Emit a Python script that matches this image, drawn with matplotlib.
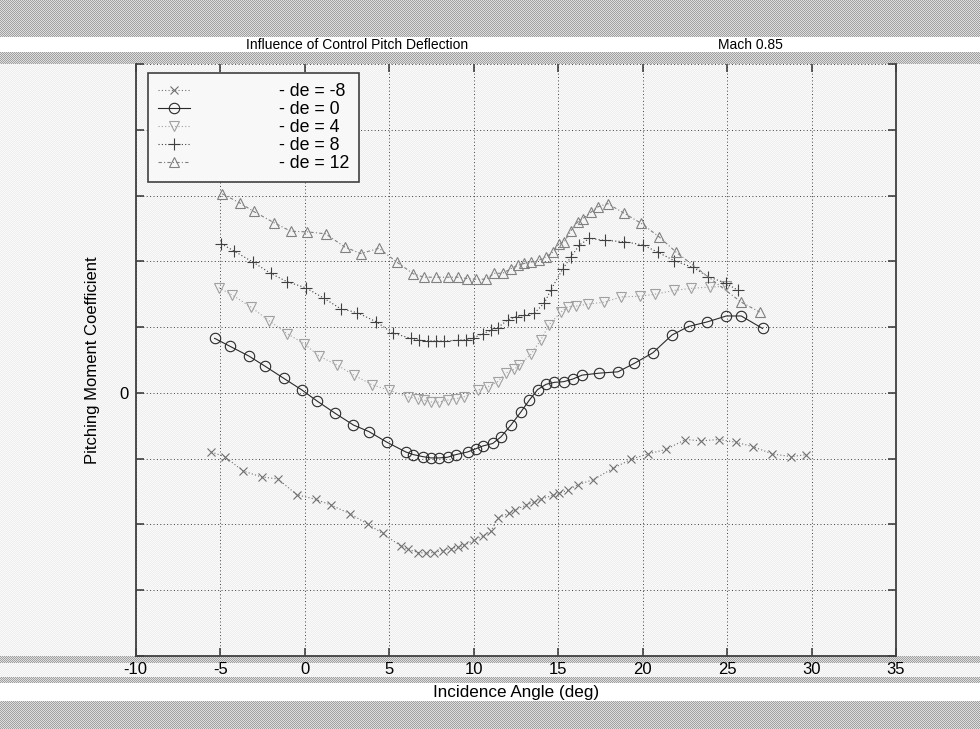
import numpy as np
import matplotlib
matplotlib.use("Agg")
import matplotlib.pyplot as plt

plt.rcParams['font.family'] = ['Liberation Sans', 'DejaVu Sans']

# ---------------- data ----------------
de_m8_x = [-5.53, -4.74, -3.63, -2.55, -1.58, -0.47, 0.65, 1.58, 2.69, 3.75, 4.61, 5.69, 6.12, 6.72,
           7.17, 7.66, 8.16, 8.65, 9.05, 9.44, 10.04, 10.53, 11.03, 11.47, 12.11, 12.47, 13.10, 13.59,
           13.99, 14.68, 15.07, 15.57, 16.16, 17.09, 18.24, 19.33, 20.31, 21.40, 22.54, 23.47, 24.52,
           25.51, 26.54, 27.68, 28.81, 29.70]
de_m8_y = [-0.90, -0.97, -1.19, -1.28, -1.31, -1.55, -1.62, -1.71, -1.84, -2.00, -2.14, -2.33, -2.38,
           -2.43, -2.44, -2.43, -2.40, -2.37, -2.35, -2.32, -2.24, -2.18, -2.10, -1.90, -1.83, -1.78,
           -1.71, -1.66, -1.62, -1.56, -1.53, -1.48, -1.40, -1.32, -1.15, -1.01, -0.93, -0.86, -0.71,
           -0.73, -0.71, -0.75, -0.82, -0.93, -0.97, -0.94]

de_0_x = [-5.33, -4.43, -3.30, -2.37, -1.23, -0.14, 0.71, 1.80, 2.89, 3.81, 4.86, 5.99, 6.44, 6.98,
          7.47, 7.96, 8.46, 8.95, 9.64, 10.14, 10.53, 11.13, 11.62, 12.21, 12.80, 13.30, 13.79, 14.29,
          14.78, 15.33, 15.87, 16.42, 17.44, 18.54, 19.52, 20.61, 21.74, 22.72, 23.83, 24.96, 25.84,
          27.10]
de_0_y = [0.83, 0.71, 0.56, 0.41, 0.22, 0.04, -0.12, -0.31, -0.49, -0.59, -0.75, -0.90, -0.94, -0.97,
          -0.99, -0.99, -0.98, -0.94, -0.90, -0.85, -0.81, -0.77, -0.67, -0.49, -0.29, -0.11, 0.05,
          0.13, 0.16, 0.17, 0.21, 0.27, 0.30, 0.32, 0.45, 0.61, 0.88, 1.01, 1.08, 1.17, 1.17, 0.98]

de_4_x = [-5.08, -4.29, -3.20, -2.12, -1.03, -0.04, 0.85, 1.94, 2.92, 4.01, 5.00, 6.09, 6.68, 7.07,
          7.47, 7.96, 8.46, 8.95, 9.44, 10.24, 10.83, 11.42, 11.91, 12.41, 12.70, 13.40, 13.99, 14.48,
          15.17, 15.57, 16.06, 16.76, 17.74, 18.73, 19.82, 20.71, 21.89, 22.88, 23.97, 24.96]
de_4_y = [1.60, 1.49, 1.31, 1.10, 0.90, 0.75, 0.56, 0.42, 0.27, 0.12, 0.04, -0.06, -0.09, -0.11,
          -0.14, -0.14, -0.11, -0.09, -0.06, 0.04, 0.09, 0.17, 0.30, 0.36, 0.42, 0.59, 0.81, 1.04,
          1.23, 1.31, 1.32, 1.35, 1.38, 1.46, 1.47, 1.50, 1.56, 1.59, 1.61, 1.62]

de_8_x = [-4.94, -4.19, -3.06, -2.02, -1.03, 0.06, 1.14, 2.13, 3.12, 4.25, 5.20, 6.28, 6.78, 7.29,
          7.77, 8.26, 9.05, 9.54, 9.94, 10.53, 11.03, 11.42, 12.02, 12.51, 13.00, 13.59, 14.19, 14.58,
          15.28, 15.77, 16.26, 16.85, 17.78, 18.93, 20.02, 20.91, 21.89, 22.98, 23.87, 24.91, 25.65]
de_8_y = [2.27, 2.16, 1.99, 1.82, 1.69, 1.60, 1.44, 1.28, 1.22, 1.08, 0.91, 0.83, 0.80, 0.79,
          0.79, 0.79, 0.80, 0.81, 0.83, 0.90, 0.95, 0.99, 1.11, 1.16, 1.18, 1.21, 1.37, 1.57,
          1.89, 2.07, 2.25, 2.35, 2.32, 2.30, 2.25, 2.14, 2.01, 1.91, 1.77, 1.67, 1.56]

de_12_x = [-4.88, -3.84, -3.01, -1.82, -0.83, 0.16, 1.24, 2.37, 3.32, 4.40, 5.45, 6.44, 7.07, 7.77,
           8.46, 9.05, 9.60, 10.14, 10.73, 11.22, 11.72, 12.21, 12.61, 13.00, 13.40, 13.89, 14.29,
           14.68, 15.07, 15.37, 15.77, 16.16, 16.46, 16.95, 17.35, 17.94, 18.93, 19.92, 21.00, 21.99,
           25.84, 26.93]
de_12_y = [3.03, 2.89, 2.76, 2.59, 2.46, 2.45, 2.42, 2.22, 2.12, 2.20, 1.99, 1.81, 1.76, 1.76,
           1.76, 1.76, 1.74, 1.73, 1.73, 1.82, 1.82, 1.89, 1.94, 1.97, 1.99, 2.02, 2.07,
           2.14, 2.27, 2.30, 2.47, 2.60, 2.65, 2.75, 2.83, 2.88, 2.73, 2.58, 2.37, 2.14,
           1.38, 1.23]

labels = ['- de = -8', '- de = 0', '- de = 4', '- de = 8', '- de = 12']
x_ticks = [-10, -5, 0, 5, 10, 15, 20, 25, 30, 35]
y_ticks = [-4, -3, -2, -1, 0, 1, 2, 3, 4, 5]
y_ticklabels = ['', '', '', '', '0', '', '', '', '', '']

title_left = 'Influence of Control Pitch Deflection'
title_right = 'Mach 0.85'
x_label = 'Incidence Angle (deg)'
y_label = 'Pitching Moment Coefficient'

FS_T = 10    # title
FS = 12      # ticks, axis labels
FS_L = 12.8  # legend

# ---------------- figure ----------------
W, H = 980, 729
fig = plt.figure(figsize=(W / 100, H / 100), dpi=100, facecolor='white')

# dithered background (scan-like texture)
yy, xx = np.mgrid[0:H, 0:W]
checker = ((xx + yy) % 2 == 0)
bg = np.where(checker, 250, 238).astype(float)
dark = np.where(checker, 160, 222).astype(float)
bands = [(0, 37), (52, 64), (656, 663), (677, 683), (701, H)]
for a, b in bands:
    bg[a:b, :] = dark[a:b, :]
bg[37:52, :] = 255
bg[683:701, :] = 255
img = np.dstack([bg, bg, bg]) / 255.0
fig.figimage(img, xo=0, yo=0, origin='upper', zorder=-10)

ax_left, ax_right, ax_top, ax_bottom = 135.7, 896.0, 64.3, 655.7
ax = fig.add_axes([ax_left / W, 1 - ax_bottom / H, (ax_right - ax_left) / W, (ax_bottom - ax_top) / H])
ax.set_facecolor('none')
ax.set_zorder(5)

ms_kw = dict(markerfacecolor='none', markeredgewidth=0.8)
ax.plot(de_m8_x, de_m8_y, linestyle=(0, (1, 2)), color='#707070', lw=0.8, marker='x', ms=6,
        label=labels[0], **ms_kw)
ax.plot(de_0_x, de_0_y, linestyle='-', color='#2a2a2a', lw=0.8, marker='o', ms=7.5,
        label=labels[1], **ms_kw)
ax.plot(de_4_x, de_4_y, linestyle=(0, (1, 2)), color='#a0a0a0', lw=0.8, marker='v', ms=7,
        label=labels[2], **ms_kw)
ax.plot(de_8_x, de_8_y, linestyle=(0, (1, 2)), color='#404040', lw=0.8, marker='+', ms=8,
        label=labels[3], **ms_kw)
ax.plot(de_12_x, de_12_y, linestyle=(0, (3, 2, 1, 2)), color='#808080', lw=0.8, marker='^', ms=7,
        label=labels[4], **ms_kw)

ax.set_xlim(-10, 35)
ax.set_ylim(-4, 5)
ax.set_xticks(x_ticks)
ax.set_xticklabels([str(t) for t in x_ticks])
ax.set_yticks(y_ticks)
ax.set_yticklabels(y_ticklabels)
ax.grid(True, linestyle=(0, (1, 2.5)), color='#404040', lw=0.7)
ax.set_axisbelow(True)
ax.tick_params(direction='in', length=5.5, width=1.2, color='#404040', top=True, right=True,
               labelsize=FS)
ax.tick_params(axis='x', pad=4.5)
ax.tick_params(axis='y', pad=5)
for side in ['left', 'right', 'bottom']:
    ax.spines[side].set_color('#404040')
    ax.spines[side].set_linewidth(1.3)
ax.spines['top'].set_visible(False)

ax.set_xlabel(x_label, fontsize=FS + 0.3, labelpad=6)
ax.set_ylabel(y_label, fontsize=FS, labelpad=14)

fig.text(246 / W, 1 - 45 / H, title_left, fontsize=FS_T, ha='left', va='center')
fig.text(783 / W, 1 - 45 / H, title_right, fontsize=FS_T, ha='right', va='center')

leg = ax.legend(loc='upper left', bbox_to_anchor=((148 - ax_left) / (ax_right - ax_left),
                                                   1 - (73 - ax_top) / (ax_bottom - ax_top)),
                borderaxespad=0, fancybox=False, framealpha=1, facecolor='#f8f8f8',
                edgecolor='#404040', fontsize=FS_L, handlelength=1.8, handletextpad=5.0,
                labelspacing=0.06, borderpad=0.55)
leg.get_frame().set_linewidth(1.2)

fig.savefig('out.png', dpi=100, facecolor=fig.get_facecolor())
